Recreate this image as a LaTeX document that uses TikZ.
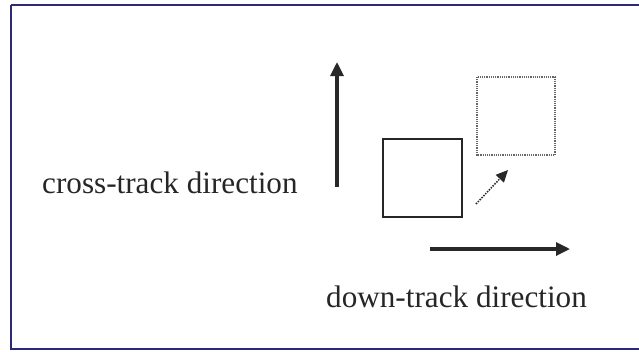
\documentclass[tikz,border=0pt]{standalone}
\usepackage{fontspec}
\setmainfont{Liberation Serif}
\usetikzlibrary{arrows.meta}
\definecolor{frameblue}{RGB}{42,42,120}
\definecolor{arrowgray}{RGB}{40,40,40}
\begin{document}
\begin{tikzpicture}[x=1bp,y=-1bp,
  lbl/.style={inner sep=0pt,anchor=base west,font=\fontsize{31.3}{35}\selectfont,text=black!85},
  bigarrow/.style={line width=3.2bp,draw=arrowgray,-{Triangle[length=14bp,width=13bp]}},
  dotarrow/.style={line width=1.5bp,draw=arrowgray,dash pattern=on 1.5bp off 1.2bp,-{Triangle[length=12bp,width=11bp]}},
  solidsq/.style={draw=black!85,line width=1.7bp},
  dotsq/.style={draw=black!60,line width=1.5bp,dash pattern=on 1.2bp off 1bp}]
\useasboundingbox (0,0) rectangle (639,351);
\draw[frameblue,line width=2bp] (11,5) -- (650,5) (11,5) -- (11,349) -- (650,349);
% squares
\draw[solidsq] (383,139) rectangle (462,217);
\draw[dotsq] (477,77) rectangle (555,155);
% arrow coordinates
\coordinate (vb) at (337,187);
\coordinate (vt) at (337,62);
\coordinate (hb) at (430,249);
\coordinate (ht) at (570,249);
\coordinate (db) at (476,204);
\coordinate (dt) at (508,170);
\draw[bigarrow] (vb) -- (vt);
\draw[bigarrow] (hb) -- (ht);
\draw[dotarrow] (db) -- (dt);
% labels
\node[lbl] (cross) at (42,193) {cross-track direction};
\node[lbl] (down) at (326,307) {down-track direction};
\end{tikzpicture}
\end{document}
